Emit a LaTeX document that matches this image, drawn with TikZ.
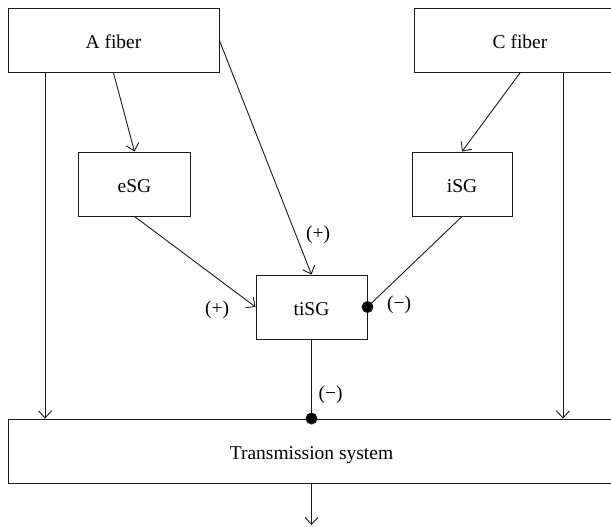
\documentclass[tikz,border=0pt]{standalone}
\usepackage{fontspec}
\setmainfont{Liberation Serif}
\usetikzlibrary{arrows.meta}
\definecolor{linegray}{HTML}{1A1A1A}

\begin{document}
\begin{tikzpicture}[x=1pt, y=-1pt, >={Straight Barb[length=7pt,width=13pt]},
    line width=0.9pt, draw=linegray, font=\fontsize{19.5}{23}\selectfont,
    box/.style={draw=linegray, line width=0.9pt, inner sep=0pt, minimum height=64pt,
      text height=16pt, text depth=0pt},
    sign/.style={inner sep=0pt}]
  \clip (0,0) rectangle (611,527);

  \node[box, minimum width=211pt] (afib) at (113.5,40.5) {A fiber};
  \node[box, minimum width=211pt] (cfib) at (520,40.5) {C fiber};
  \node[box, minimum width=112pt] (esg) at (134.5,184) {eSG};
  \node[box, minimum width=100pt] (isg) at (462,184) {iSG};
  \node[box, minimum width=111pt] (tisg) at (311.5,307) {tiSG};
  \node[box, minimum width=606pt] (trans) at (311.5,451) {Transmission system};

  \coordinate (atap) at (45,73);
  \coordinate (ctap) at (563,73);
  \coordinate (out) at (311.5,525);

  \draw[->] (afib.south) -- (esg.north);
  \draw[->] (afib.east) -- (tisg.north);
  \draw[->] (cfib.south) -- (isg.north);
  \draw[->] (esg.south) -- (tisg.west);
  \draw (isg.south) -- (tisg.east);
  \filldraw (tisg.east) circle (5.5pt);
  \draw (tisg.south) -- (trans.north);
  \filldraw (trans.north) circle (5.5pt);
  \draw[->] (atap) -- (atap |- trans.north);
  \draw[->] (ctap) -- (ctap |- trans.north);
  \draw[->] (trans.south) -- (out);

  \node[sign] (plusa) at (318,235) {(+)};
  \node[sign] (pluse) at (217,310) {(+)};
  \node[sign] (minusi) at (399,305) {(−)};
  \node[sign] (minust) at (330.5,395) {(−)};
\end{tikzpicture}
\end{document}
